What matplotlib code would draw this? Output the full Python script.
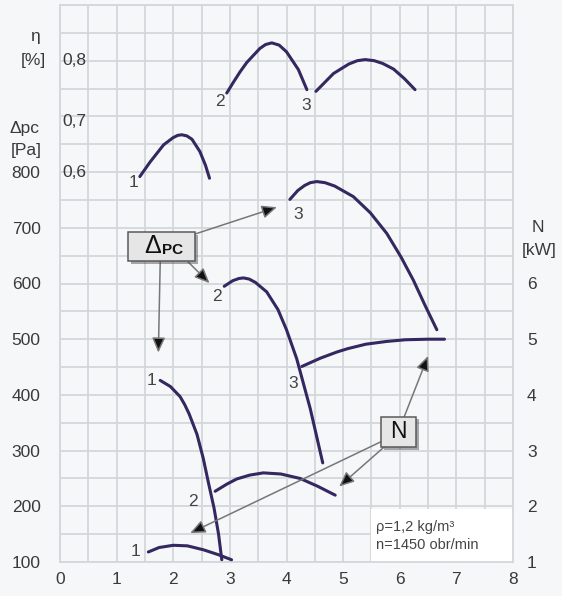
import numpy as np
import matplotlib
matplotlib.use('Agg')
import matplotlib.pyplot as plt
import matplotlib.patheffects as pe
from matplotlib.patches import Rectangle

plt.rcParams['font.family'] = ['Liberation Sans', 'DejaVu Sans']
plt.rcParams['font.size'] = 12.5

# efficiency curves (eta, left inner scale)
eta1_x = [1.41, 1.59, 1.83, 2.0, 2.08, 2.15, 2.24, 2.33, 2.47, 2.57, 2.64]
eta1_y = [0.592, 0.618, 0.649, 0.662, 0.666, 0.667, 0.665, 0.659, 0.637, 0.612, 0.589]
eta2_x = [2.945, 3.06, 3.18, 3.30, 3.53, 3.63, 3.74, 3.87, 4.0, 4.21, 4.36]
eta2_y = [0.742, 0.761, 0.780, 0.797, 0.822, 0.829, 0.832, 0.828, 0.816, 0.784, 0.748]
eta3_x = [4.52, 4.83, 5.10, 5.25, 5.39, 5.55, 5.70, 5.89, 6.08, 6.27]
eta3_y = [0.745, 0.777, 0.794, 0.800, 0.802, 0.800, 0.795, 0.785, 0.768, 0.748]

# static pressure curves [Pa]
dp1_x = [1.77, 1.95, 2.12, 2.20, 2.28, 2.42, 2.53, 2.62, 2.72, 2.80, 2.857]
dp1_y = [426, 415, 397, 383, 366, 329, 286, 243, 197, 150, 104]
dp2_x = [2.90, 3.05, 3.16, 3.24, 3.34, 3.45, 3.65, 3.85, 4.0, 4.18, 4.42, 4.64]
dp2_y = [595, 605, 609, 610, 608, 602, 585, 553, 517, 465, 375, 278]
dp3_x = [4.06, 4.20, 4.32, 4.42, 4.535, 4.68, 4.85, 5.18, 5.48, 5.77, 6.02, 6.24, 6.45, 6.655]
dp3_y = [751, 767, 776, 781, 783, 781, 775, 756, 727, 690, 648, 606, 560, 517]

# power curves [kW]
n1_x = [1.56, 1.75, 2.0, 2.25, 2.53, 2.80, 3.03]
n1_y = [1.18, 1.26, 1.30, 1.29, 1.22, 1.13, 1.04]
n2_x = [2.74, 2.95, 3.12, 3.35, 3.59, 3.90, 4.24, 4.55, 4.86]
n2_y = [2.27, 2.40, 2.49, 2.56, 2.60, 2.58, 2.50, 2.36, 2.20]
n3_x = [4.27, 4.60, 4.89, 5.08, 5.40, 5.77, 6.10, 6.50, 6.79]
n3_y = [4.51, 4.66, 4.77, 4.83, 4.91, 4.96, 4.99, 5.0, 5.0]

pa_ticks = [100, 200, 300, 400, 500, 600, 700, 800]
eta_ticks = [0.6, 0.7, 0.8]
eta_labels = ['0,6', '0,7', '0,8']
n_ticks = [1, 2, 3, 4, 5, 6]
x_ticks = [0, 1, 2, 3, 4, 5, 6, 7, 8]

bg = '#f5f7f9'
grid_c = '#d3d7db'
line_c = '#35275f'
txt_c = '#3a3a3a'

fig = plt.figure(figsize=(5.62, 5.96), dpi=100, facecolor=bg)
ax = fig.add_axes([60/562, 34/596, 453/562, 557/596])
ax.set_facecolor(bg)
ax.set_xlim(0, 8)
ax.set_ylim(100, 1100)
ax.set_xticks(np.arange(0, 8.01, 0.5))
ax.set_xticklabels([str(int(v)) if v in x_ticks else '' for v in np.arange(0, 8.01, 0.5)])
ax.set_yticks(np.arange(100, 1101, 50))
ax.set_yticklabels([str(v) if v in pa_ticks else '' for v in range(100, 1101, 50)])
ax.tick_params(length=0, colors=txt_c, labelsize=12.5)
ax.tick_params(axis='y', pad=14)
ax.tick_params(axis='x', pad=7)
ax.grid(True, color=grid_c, lw=1.3)
ax.set_axisbelow(True)
for s in ax.spines.values():
    s.set_color(grid_c)
    s.set_linewidth(1.3)
# white panel behind the note
ax.add_patch(Rectangle((5.5, 100), 2.5, 96, fc='white', ec='none', zorder=1))

axE = ax.twinx()
axE.set_ylim(-0.1, 0.9)
axE.set_axis_off()
axN = ax.twinx()
axN.set_ylim(1, 11)
axN.set_yticks(n_ticks)
axN.tick_params(length=0, colors=txt_c, labelsize=12.5, pad=10)
for s in axN.spines.values():
    s.set_visible(False)

kw = dict(color=line_c, lw=2.2, solid_capstyle='round', solid_joinstyle='round')
for xs, ys in [(eta1_x, eta1_y), (eta2_x, eta2_y), (eta3_x, eta3_y)]:
    axE.plot(xs, ys, **kw)
for xs, ys in [(dp1_x, dp1_y), (dp2_x, dp2_y), (dp3_x, dp3_y)]:
    ax.plot(xs, ys, **kw)
for xs, ys in [(n1_x, n1_y), (n2_x, n2_y), (n3_x, n3_y)]:
    axN.plot(xs, ys, **kw)

# eta scale labels inside the grid
for v, lab in zip(eta_ticks, eta_labels):
    yy = v - 0.009 if lab == '0,7' else v
    axE.text(0.05, yy, lab, ha='left', va='center', color=txt_c, fontsize=12.5)

# curve numbers
lab_kw = dict(ha='center', va='center', color='#444444', fontsize=12.5)
axE.text(1.29, 0.581, '1', **lab_kw)
axE.text(2.83, 0.727, '2', **lab_kw)
axE.text(4.35, 0.719, '3', **lab_kw)
ax.text(1.62, 426, '1', **lab_kw)
ax.text(2.77, 577, '2', **lab_kw)
ax.text(4.21, 723, '3', **lab_kw)
axN.text(1.34, 1.18, '1', **lab_kw)
axN.text(2.34, 2.08, '2', **lab_kw)
axN.text(4.12, 4.20, '3', **lab_kw)

# axis titles
fig.text(35/562, 1-37/596, 'η', ha='center', va='center', color=txt_c, fontsize=12.5)
fig.text(33/562, 1-60/596, '[%]', ha='center', va='center', color=txt_c, fontsize=12.5)
fig.text(25/562, 1-128/596, 'Δpc', ha='center', va='center', color=txt_c, fontsize=12.5)
fig.text(26/562, 1-150/596, '[Pa]', ha='center', va='center', color=txt_c, fontsize=12.5)
fig.text(538/562, 1-228/596, 'N', ha='center', va='center', color=txt_c, fontsize=12.5)
fig.text(539/562, 1-250/596, '[kW]', ha='center', va='center', color=txt_c, fontsize=12.5)

# note
axN.text(5.58, 1.62, 'ρ=1,2 kg/m³', ha='left', va='center', color='#444444', fontsize=10.5)
axN.text(5.58, 1.30, 'n=1450 obr/min', ha='left', va='center', color='#444444', fontsize=10.5)

# callout arrows
arr = dict(arrowstyle='-|>,head_length=0.5,head_width=0.22', ec='#777777', fc='#111111',
           lw=1.1, mutation_scale=18, shrinkA=0, shrinkB=0)
for start, tip in [((2.39, 6.89), (3.83, 7.37)),
                   ((2.26, 6.39), (2.64, 6.007)),
                   ((1.77, 6.39), (1.737, 4.76)),
                   ((6.08, 3.61), (6.50, 4.70)),
                   ((5.73, 3.07), (4.93, 2.355)),
                   ((5.67, 3.16), (2.30, 1.52))]:
    axN.annotate('', xy=tip, xytext=start, arrowprops=arr, zorder=4)

# callout boxes
shadow = [pe.SimplePatchShadow(offset=(2, -2), alpha=0.45), pe.Normal()]
box1 = Rectangle((1.20, 6.40), 1.19, 0.52, fc='#e6e6e6', ec='#5a5a5a', lw=1.1, zorder=5)
box1.set_path_effects(shadow)
axN.add_patch(box1)
axN.text(1.64, 6.67, 'Δ', ha='center', va='center', fontsize=18, color='#111111', zorder=6)
axN.text(1.98, 6.61, 'PC', ha='center', va='center', fontsize=11, fontweight='bold', color='#111111', zorder=6)
box2 = Rectangle((5.67, 3.06), 0.62, 0.55, fc='#e6e6e6', ec='#5a5a5a', lw=1.1, zorder=5)
box2.set_path_effects(shadow)
axN.add_patch(box2)
axN.text(5.98, 3.34, 'N', ha='center', va='center', fontsize=16.5, color='#111111', zorder=6)

fig.savefig('out.png', dpi=100, facecolor=bg)
